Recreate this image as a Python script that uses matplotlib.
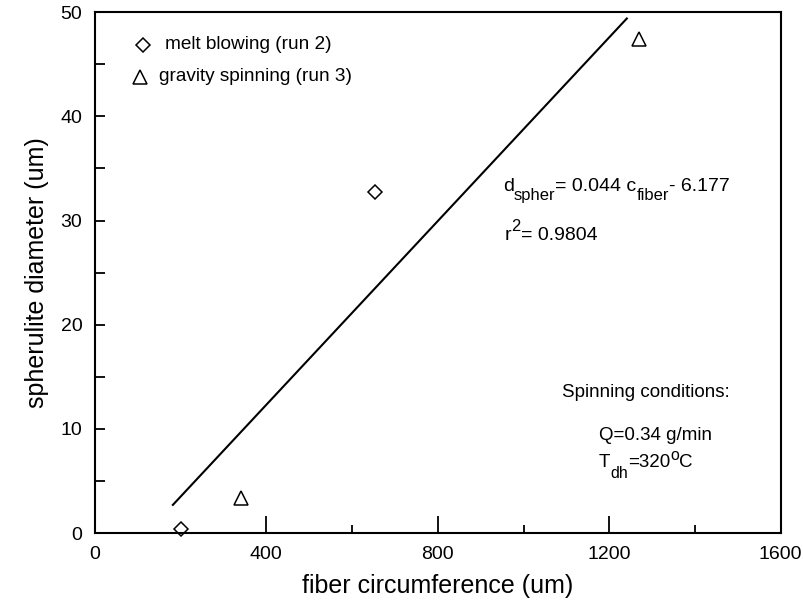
import numpy as np
import matplotlib
matplotlib.use('Agg')
import matplotlib.pyplot as plt
from matplotlib.ticker import MultipleLocator
from matplotlib.transforms import offset_copy

plt.rcParams['font.family'] = ['Liberation Sans', 'DejaVu Sans']

# data
melt_x = [200, 653]
melt_y = [0.4, 32.7]
grav_x = [340, 1269]
grav_y = [3.4, 47.4]

# fitted line as drawn (end points)
fit_x = [182, 1241]
fit_y = [2.7, 49.4]

fig = plt.figure(figsize=(8.04, 6.13), dpi=100)
ax = fig.add_axes([0.118, 0.1305, 0.853, 0.8495])

ax.plot(fit_x, fit_y, color='black', lw=1.5)
ax.plot(melt_x, melt_y, 'D', ms=7.5, mfc='white', mec='black', mew=1.1, clip_on=False)
ax.plot(grav_x, grav_y, '^', ms=10, mfc='white', mec='black', mew=1.1, clip_on=False)

ax.set_xlim(0, 1600)
ax.set_ylim(0, 50)
ax.xaxis.set_major_locator(MultipleLocator(400))
ax.xaxis.set_minor_locator(MultipleLocator(200))
ax.yaxis.set_major_locator(MultipleLocator(10))
ax.yaxis.set_minor_locator(MultipleLocator(5))
ax.tick_params(which='both', direction='in', top=False, right=False, labelsize=14, width=1.3)
ax.tick_params(axis='x', which='major', length=12, pad=9)
ax.tick_params(axis='x', which='minor', length=6)
ax.tick_params(axis='y', which='major', length=7, pad=9)
ax.tick_params(axis='y', which='minor', length=7)
for s in ax.spines.values():
    s.set_linewidth(1.5)

ax.set_xlabel('fiber circumference (um)', fontsize=18, labelpad=8)
ax.set_ylabel('spherulite diameter (um)', fontsize=18, labelpad=8)

# legend drawn by hand
ax.plot([112], [46.9], 'D', ms=7.5, mfc='white', mec='black', mew=1.1)
ax.text(163, 46.9, 'melt blowing (run 2)', fontsize=13.7, va='center')
ax.plot([105], [43.8], '^', ms=10, mfc='white', mec='black', mew=1.1)
ax.text(149, 43.8, 'gravity spinning (run 3)', fontsize=13.7, va='center')

renderer = fig.canvas.get_renderer()


def rich_text(x, y, parts, size=13.5):
    # parts: (text, shift in points); shifted pieces are drawn smaller
    dx = 0
    for s, shift in parts:
        fs = size if shift == 0 else size * 0.85
        tr = offset_copy(ax.transData, fig=fig, x=dx, y=shift, units='points')
        t = ax.text(x, y, s, fontsize=fs, transform=tr, va='baseline', ha='left')
        dx += t.get_window_extent(renderer).width * 72 / fig.dpi


rich_text(952, 32.8, [('d', 0), ('spher', -6.5), ('= 0.044 c', 0), ('fiber', -6.5), ('- 6.177', 0)], size=14)
rich_text(956, 28.1, [('r', 0), ('2', 6.5), ('= 0.9804', 0)], size=14)

ax.text(1089, 13.05, 'Spinning conditions:', fontsize=13.5, va='baseline')
ax.text(1175, 8.93, 'Q=0.34 g/min', fontsize=13.5, va='baseline')
rich_text(1175, 6.3, [('T', 0), ('dh', -7.5), ('=320', 0), ('o', 5.5), ('C', 0)])

fig.savefig('out.png', dpi=100)
